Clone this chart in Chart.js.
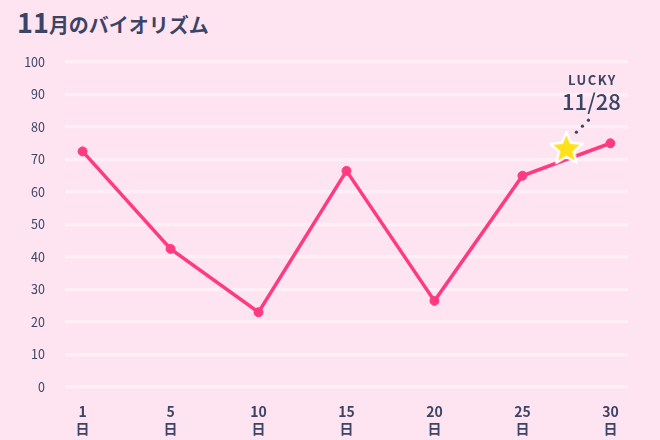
<!DOCTYPE html>
<html lang="ja">
<head>
    <meta charset="UTF-8">
    <script src="https://cdn.jsdelivr.net/npm/chart.js"></script>
    <title>11月のバイオリズム</title>
    <style>
      body { margin: 0; background: #fee4f1; width: 660px; height: 440px; overflow: hidden; position: relative; }
      #title { position: absolute; left: 17px; top: 2px; font-family: "Noto Sans CJK JP"; font-weight: 700; color: #3b4465; white-space: nowrap; }
      #title .num { font-size: 27px; }
      #title .txt { font-size: 20px; }
      canvas { position: absolute; left: 0; top: 0; }
    </style>
</head>
<body>
  <div id="title"><span class="num">11</span><span class="txt">月のバイオリズム</span></div>
  <canvas id="bioChart" width="660" height="440"></canvas>

  <script>
    const days = [1, 5, 10, 15, 20, 25, 30];
    const values = [72.5, 42.5, 23, 66.5, 26.5, 65, 75];
    const yTicks = [0, 10, 20, 30, 40, 50, 60, 70, 80, 90, 100];
    const luckyDate = '11/28';
    const luckyPos = 5.5;   // between 25 and 30 days
    const luckyValue = 73.5;

    const navy = '#3b4465';
    const pink = '#ff3b80';
    const font = '"Noto Sans CJK JP"';

    // yellow star used as the point image
    function makeStar() {
      const c = document.createElement('canvas');
      c.width = 40; c.height = 40;
      const g = c.getContext('2d');
      const R = 17, r = 7.8, cx = 20, cy = 21;
      g.beginPath();
      for (let i = 0; i < 10; i++) {
        const rad = i % 2 ? r : R;
        const a = -Math.PI / 2 + i * Math.PI / 5;
        g.lineTo(cx + rad * Math.cos(a), cy + rad * Math.sin(a));
      }
      g.closePath();
      g.lineJoin = 'round';
      g.lineWidth = 2.5;
      g.strokeStyle = '#ffffff';
      g.fillStyle = '#ffe01c';
      g.fill();
      g.stroke();
      return c;
    }

    const luckyLabel = {
      id: 'luckyLabel',
      afterDatasetsDraw(chart) {
        const pt = chart.getDatasetMeta(1).data[0];
        if (!pt) return;
        const ctx = chart.ctx;
        ctx.save();
        ctx.fillStyle = navy;
        [[10, -16], [16, -22], [22, -28]].forEach(([dx, dy]) => {
          ctx.beginPath();
          ctx.arc(pt.x + dx, pt.y + dy, 1.6, 0, Math.PI * 2);
          ctx.fill();
        });
        ctx.textAlign = 'center';
        ctx.textBaseline = 'middle';
        ctx.font = '700 13px ' + font;
        ctx.letterSpacing = '1.5px';
        ctx.fillText('LUCKY', pt.x + 26, pt.y - 68);
        ctx.letterSpacing = '0px';
        ctx.font = '500 22px ' + font;
        ctx.fillText(luckyDate, pt.x + 25, pt.y - 46);
        ctx.restore();
      }
    };

    new Chart(document.getElementById('bioChart'), {
      type: 'scatter',
      data: {
        datasets: [
          {
            data: values.map((v, i) => ({ x: i, y: v })),
            showLine: true,
            borderColor: pink,
            backgroundColor: pink,
            borderWidth: 3.5,
            pointRadius: 4.5,
            pointBorderWidth: 1,
            pointHoverRadius: 4.5,
            tension: 0,
            order: 2
          },
          {
            data: [{ x: luckyPos, y: luckyValue }],
            pointStyle: makeStar(),
            order: 1
          }
        ]
      },
      options: {
        responsive: false,
        animation: false,
        events: [],
        layout: { padding: { top: 62, right: 32, left: 0, bottom: 0 } },
        plugins: { legend: { display: false }, tooltip: { enabled: false } },
        scales: {
          x: {
            type: 'linear',
            min: -0.2,
            max: 6.2,
            afterBuildTicks: (s) => { s.ticks = days.map((d, i) => ({ value: i })); },
            afterFit: (s) => { s.height = 53; },
            grid: { display: false },
            border: { display: false },
            ticks: {
              padding: 8,
              color: navy,
              font: { family: font, size: 14, weight: 600, lineHeight: 1.2 },
              callback: (v) => [String(days[v]), '日']
            }
          },
          y: {
            min: 0,
            max: 100,
            afterBuildTicks: (s) => { s.ticks = yTicks.map(v => ({ value: v })); },
            afterFit: (s) => { s.width = 65; },
            grid: { color: 'rgba(255,255,255,0.4)', lineWidth: 3.5, drawTicks: false },
            border: { display: false },
            ticks: {
              padding: 20,
              color: navy,
              font: { family: font, size: 12.5 }
            }
          }
        }
      },
      plugins: [luckyLabel]
    });
  </script>
</body>
</html>
